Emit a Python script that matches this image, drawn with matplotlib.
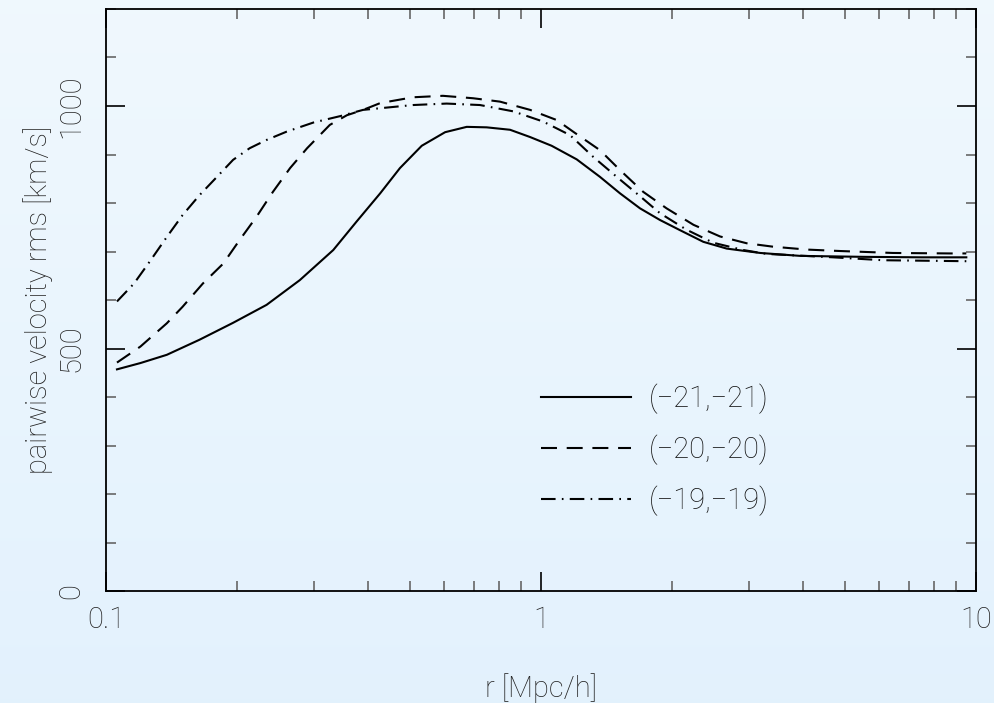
import numpy as np
import matplotlib.pyplot as plt
from matplotlib.ticker import FixedLocator, LogLocator, NullFormatter

plt.rcParams['font.family'] = ['Roboto', 'DejaVu Sans']
plt.rcParams['font.weight'] = 'light'
plt.rcParams['axes.labelweight'] = 'light'
plt.rcParams['lines.scale_dashes'] = False

# r [Mpc/h] and pairwise velocity rms [km/s] for each magnitude pair
r_21 = [0.106, 0.120, 0.138, 0.164, 0.196, 0.234, 0.279, 0.333, 0.377, 0.427, 0.474,
        0.532, 0.602, 0.675, 0.750, 0.849, 0.944, 1.058, 1.208, 1.366, 1.519, 1.689,
        1.877, 2.087, 2.361, 2.673, 3.19, 3.94, 5.5, 7.5, 9.5]
v_21 = [457, 470, 487, 518, 553, 590, 641, 703, 762, 820, 872,
        918, 946, 957, 956, 951, 936, 918, 890, 854, 820, 789,
        765, 744, 720, 706, 697, 691, 689, 688, 688]

r_20 = [0.106, 0.120, 0.138, 0.150, 0.167, 0.186, 0.203, 0.222, 0.242, 0.265, 0.290,
        0.327, 0.358, 0.39, 0.427, 0.508, 0.595, 0.698, 0.805, 0.944, 1.087, 1.186,
        1.366, 1.519, 1.718, 1.944, 2.242, 2.58, 2.97, 3.41, 4.08, 4.87, 6.44, 8.72, 9.5]
v_20 = [471, 504, 552, 586, 634, 675, 724, 772, 823, 872, 913,
        961, 981, 992, 1006, 1018, 1021, 1016, 1009, 992, 971, 947,
        909, 868, 823, 789, 755, 731, 717, 710, 704, 701, 697, 696, 696]

r_19 = [0.106, 0.116, 0.126, 0.138, 0.150, 0.164, 0.180, 0.196, 0.214, 0.234, 0.260,
        0.300, 0.345, 0.39, 0.508, 0.607, 0.724, 0.863, 1.011, 1.166, 1.319, 1.493,
        1.689, 1.877, 2.16, 2.49, 2.92, 3.30, 4.69, 6.12, 9.5]
v_19 = [597, 634, 679, 730, 775, 816, 854, 889, 913, 930, 947,
        966, 979, 992, 1002, 1005, 1002, 989, 968, 940, 895, 854,
        814, 779, 745, 718, 703, 695, 688, 682, 680]

labels = ['(\u221221,\u221221)', '(\u221220,\u221220)', '(\u221219,\u221219)']

fig = plt.figure(figsize=(9.95, 7.03), dpi=100)

# pale blue vertical gradient behind everything
bg = fig.add_axes([0, 0, 1, 1], zorder=-10)
top = np.array([0.941, 0.973, 0.996])
bot = np.array([0.890, 0.947, 0.992])
t = np.linspace(0, 1, 256)[:, None]
grad = (top * (1 - t) + bot * t)[:, None, :]
bg.imshow(grad, aspect='auto', extent=[0, 1, 0, 1])
bg.axis('off')

ax = fig.add_axes([0.1065, 0.1593, 0.8744, 0.8279])
ax.patch.set_alpha(0)

lw = 1.5
ax.plot(r_21, v_21, color='black', lw=lw, ls='-', label=labels[0])
ax.plot(r_20, v_20, color='black', lw=lw, ls=(0, (11.5, 7.0)), label=labels[1])
ax.plot(r_19, v_19, color='black', lw=lw, ls=(0, (10.5, 4.5, 1.2, 4.5)), label=labels[2])

ax.set_xscale('log')
ax.set_xlim(0.1, 10)
ax.set_ylim(0, 1200)

ax.xaxis.set_major_locator(FixedLocator([0.1, 1, 10]))
ax.set_xticklabels(['0.1', '1', '10'])
ax.xaxis.set_minor_locator(LogLocator(base=10, subs=np.arange(2, 10)))
ax.xaxis.set_minor_formatter(NullFormatter())
ax.yaxis.set_major_locator(FixedLocator([0, 500, 1000]))
ax.yaxis.set_minor_locator(FixedLocator(np.arange(0, 1201, 100)))

for s in ax.spines.values():
    s.set_linewidth(1.3)

txt_col = '#222222'
fs = 21
ax.tick_params(which='both', direction='in', top=True, right=True, colors='black',
               labelcolor=txt_col, labelsize=fs)
ax.tick_params(which='major', length=14, width=1.2)
ax.tick_params(which='minor', length=7, width=1.2, color='#666666')
ax.tick_params(axis='x', pad=11)
ax.tick_params(axis='y', pad=15)
for lab in ax.get_yticklabels():
    lab.set_rotation(90)
    lab.set_va('center')

ax.set_xlabel('r [Mpc/h]', fontsize=fs, color=txt_col, labelpad=28)
ax.set_ylabel('pairwise velocity rms [km/s]', fontsize=fs, color=txt_col, labelpad=3)

leg = ax.legend(loc='upper left', bbox_to_anchor=(0.5, 0.356), frameon=False,
                prop={'size': fs, 'weight': 'light'}, handlelength=3.1, handletextpad=0.6,
                labelspacing=0.7, borderpad=0, borderaxespad=0)
for txt in leg.get_texts():
    txt.set_color('#111111')

fig.savefig('out.png', dpi=100)
